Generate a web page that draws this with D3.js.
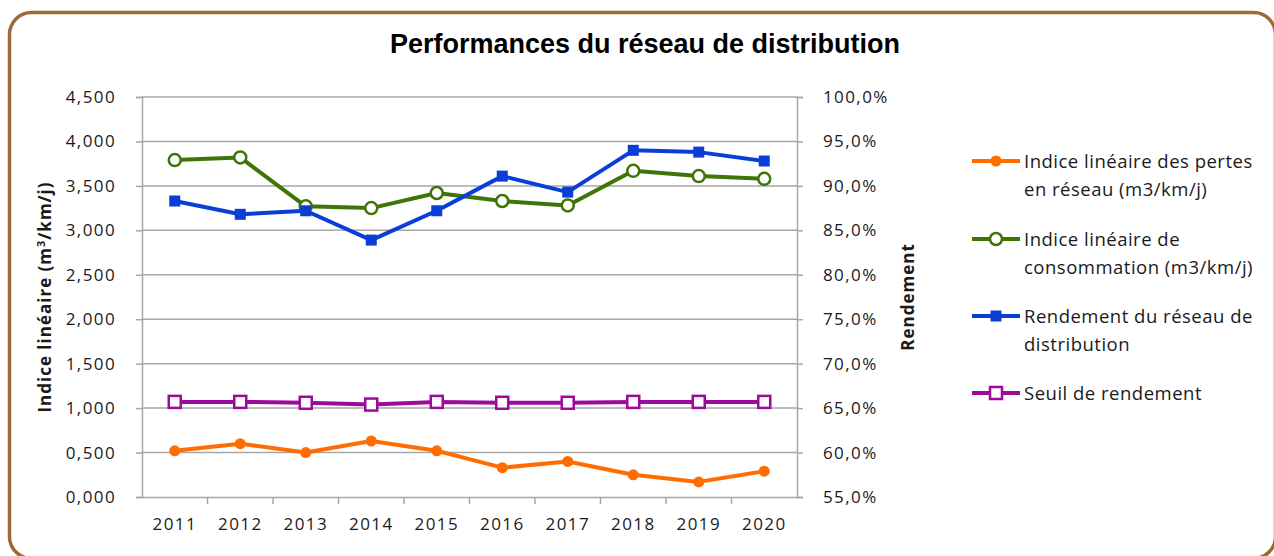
<!DOCTYPE html>
<html>
<head>
<meta charset="utf-8">
<script src="https://cdn.jsdelivr.net/npm/d3@7"></script>
<style>
  body { margin: 0; background: #fff; }
  svg { display: block; }
</style>
</head>
<body>
<svg id="chart" width="1274" height="556"></svg>
<script>
"use strict";

// data
const years = ["2011", "2012", "2013", "2014", "2015", "2016", "2017", "2018", "2019", "2020"];
const pertes = [0.52, 0.60, 0.50, 0.63, 0.52, 0.33, 0.40, 0.25, 0.17, 0.29];
const consommation = [3.79, 3.82, 3.27, 3.25, 3.42, 3.33, 3.28, 3.67, 3.61, 3.58];
const rendement = [0.883, 0.868, 0.872, 0.839, 0.872, 0.911, 0.893, 0.940, 0.938, 0.928];
const seuil = [0.657, 0.657, 0.656, 0.654, 0.657, 0.656, 0.656, 0.657, 0.657, 0.657];
const leftTicks = [0, 0.5, 1, 1.5, 2, 2.5, 3, 3.5, 4, 4.5];
const rightTicks = [0.55, 0.60, 0.65, 0.70, 0.75, 0.80, 0.85, 0.90, 0.95, 1.00];

const svg = d3.select("#chart");
const plot = { left: 142, right: 797, top: 97, bottom: 497 };
const gridColor = "#a6a6a6";
const labelFont = "'Open Sans', sans-serif";

const x = d3.scaleBand().domain(years).range([plot.left, plot.right]);
const yL = d3.scaleLinear().domain([0, 4.5]).range([plot.bottom, plot.top]);
const yR = d3.scaleLinear().domain([0.55, 1.0]).range([plot.bottom, plot.top]);

// frame
svg.append("rect")
  .attr("x", 9.5).attr("y", 12.5)
  .attr("width", 1266).attr("height", 546)
  .attr("rx", 22).attr("ry", 22)
  .attr("fill", "#fff")
  .attr("stroke", "#9e6a36")
  .attr("stroke-width", 3.5);

// title
svg.append("text")
  .attr("x", 645).attr("y", 53)
  .attr("text-anchor", "middle")
  .attr("font-family", "'Liberation Sans', Arial, sans-serif")
  .attr("font-weight", "bold")
  .attr("font-size", 27)
  .text("Performances du réseau de distribution");

// gridlines
svg.append("g").selectAll("line").data(leftTicks.slice(1))
  .enter().append("line")
  .attr("x1", plot.left).attr("x2", plot.right)
  .attr("y1", d => yL(d)).attr("y2", d => yL(d))
  .attr("stroke", gridColor).attr("stroke-width", 1.5);

function styleAxis(g) {
  g.select(".domain").attr("stroke", gridColor).attr("stroke-width", 1.5);
  g.selectAll(".tick line").attr("stroke", gridColor).attr("stroke-width", 1.5);
  g.selectAll(".tick text")
    .attr("font-family", labelFont)
    .attr("font-size", 17)
    .attr("letter-spacing", 1.4)
    .attr("fill", "#1a1a1a");
}

const commaFmt3 = d => d3.format(".3f")(d).replace(".", ",");
const pctFmt = d => d3.format(".1%")(d).replace(".", ",");

svg.append("g")
  .attr("transform", `translate(${plot.left},0)`)
  .call(d3.axisLeft(yL).tickValues(leftTicks).tickFormat(commaFmt3).tickSizeOuter(0).tickSize(6).tickPadding(20))
  .call(styleAxis);

svg.append("g")
  .attr("transform", `translate(${plot.right},0)`)
  .call(d3.axisRight(yR).tickValues(rightTicks).tickFormat(pctFmt).tickSizeOuter(0).tickSize(6).tickPadding(20))
  .call(styleAxis);

svg.append("g")
  .attr("transform", `translate(0,${plot.bottom})`)
  .call(d3.axisBottom(x).tickSize(0).tickPadding(21))
  .call(styleAxis);

// category separators on the bottom axis
svg.append("g").selectAll("line").data(years.slice(1))
  .enter().append("line")
  .attr("x1", d => x(d)).attr("x2", d => x(d))
  .attr("y1", plot.bottom).attr("y2", plot.bottom + 7)
  .attr("stroke", gridColor).attr("stroke-width", 1.5);

// axis titles
svg.append("text")
  .attr("transform", "translate(51,297) rotate(-90)")
  .attr("text-anchor", "middle")
  .attr("font-family", labelFont)
  .attr("font-weight", "bold")
  .attr("font-size", 17)
  .attr("letter-spacing", 1)
  .attr("fill", "#1a1a1a")
  .html("Indice linéaire (m<tspan dy='-6' font-size='11'>3</tspan><tspan dy='6'>/km/j)</tspan>");

svg.append("text")
  .attr("transform", "translate(914,297) rotate(-90)")
  .attr("text-anchor", "middle")
  .attr("font-family", labelFont)
  .attr("font-weight", "bold")
  .attr("font-size", 17)
  .attr("letter-spacing", 1)
  .attr("fill", "#1a1a1a")
  .text("Rendement");

// series
const series = [
  { name: ["Indice linéaire des pertes", "en réseau (m3/km/j)"], values: pertes, scale: yL, color: "#ff6d00", marker: "dot" },
  { name: ["Indice linéaire de", "consommation (m3/km/j)"], values: consommation, scale: yL, color: "#3f7508", marker: "ring" },
  { name: ["Rendement du réseau de", "distribution"], values: rendement, scale: yR, color: "#0a3ed6", marker: "square" },
  { name: ["Seuil de rendement"], values: seuil, scale: yR, color: "#9c0a9c", marker: "box" }
];

function drawMarker(g, type, color) {
  if (type === "dot") {
    g.append("circle").attr("r", 5.5).attr("fill", color);
  } else if (type === "ring") {
    g.append("circle").attr("r", 6).attr("fill", "#fff").attr("stroke", color).attr("stroke-width", 2.5);
  } else if (type === "square") {
    g.append("rect").attr("x", -5.5).attr("y", -5.5).attr("width", 11).attr("height", 11).attr("fill", color);
  } else {
    g.append("rect").attr("x", -6).attr("y", -6).attr("width", 12).attr("height", 12)
      .attr("fill", "#fff").attr("stroke", color).attr("stroke-width", 2.5);
  }
}

series.forEach(s => {
  const pts = years.map((yr, i) => [x(yr) + x.bandwidth() / 2, s.scale(s.values[i])]);
  svg.append("path")
    .datum(pts)
    .attr("d", d3.line())
    .attr("fill", "none")
    .attr("stroke", s.color)
    .attr("stroke-width", 4)
    .attr("stroke-linejoin", "round");
  pts.forEach(p => {
    const g = svg.append("g").attr("transform", `translate(${p[0]},${p[1]})`);
    drawMarker(g, s.marker, s.color);
  });
});

// legend
const legendY = [161, 239, 316, 393];
series.forEach((s, i) => {
  const ly = legendY[i];
  svg.append("line")
    .attr("x1", 972).attr("x2", 1020)
    .attr("y1", ly).attr("y2", ly)
    .attr("stroke", s.color).attr("stroke-width", 4);
  drawMarker(svg.append("g").attr("transform", `translate(996,${ly})`), s.marker, s.color);
  const t = svg.append("text")
    .attr("x", 1024).attr("y", ly + 7)
    .attr("font-family", labelFont)
    .attr("font-size", 18.5)
    .attr("letter-spacing", 0.5)
    .attr("fill", "#1a1a1a");
  s.name.forEach((line, j) => {
    t.append("tspan").attr("x", 1024).attr("dy", j === 0 ? 0 : 28).text(line);
  });
});
</script>
</body>
</html>
